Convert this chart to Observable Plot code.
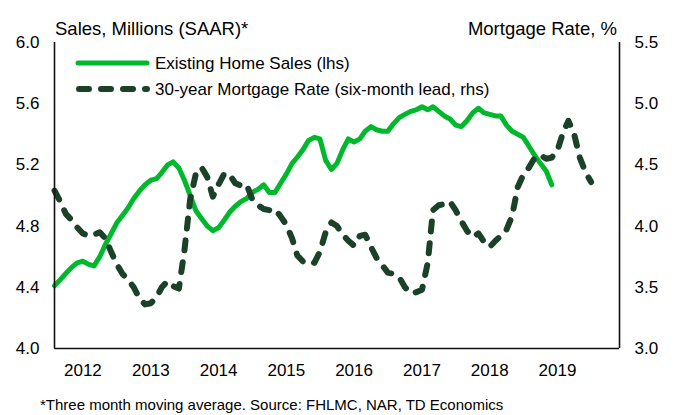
<!DOCTYPE html>
<html><head><meta charset="utf-8">
<script src="https://cdn.jsdelivr.net/npm/d3@7"></script>
<script src="https://cdn.jsdelivr.net/npm/@observablehq/plot@0.6"></script>
<style>
body{margin:0;background:#fff;}
#chart{width:676px;height:415px;font-family:"Liberation Sans",Arial,sans-serif;}
</style></head><body><div id="chart"></div>
<script>
// Monthly series, starting August 2011
const startMonth = "2011-08-01";
const domainEnd = "2019-12-01";

// Existing Home Sales, millions SAAR (3mma), left axis
const sales = [
 4.41,4.45,4.49,4.53,4.56,4.57,4.55,4.54,4.60,4.68,
 4.75,4.82,4.87,4.92,4.98,5.03,5.07,5.10,5.11,5.15,
 5.20,5.22,5.18,5.10,5.00,4.90,4.85,4.80,4.77,4.79,
 4.84,4.89,4.93,4.96,4.98,5.02,5.04,5.07,5.02,5.02,
 5.08,5.14,5.21,5.25,5.30,5.36,5.38,5.37,5.23,5.17,
 5.21,5.30,5.37,5.35,5.37,5.42,5.45,5.43,5.42,5.42,
 5.47,5.51,5.53,5.55,5.56,5.58,5.56,5.58,5.55,5.52,
 5.50,5.46,5.45,5.49,5.54,5.57,5.54,5.53,5.52,5.52,
 5.46,5.42,5.40,5.38,5.32,5.26,5.21,5.16,5.07
];

// 30-year mortgage rate, % (six-month lead), right axis
const mortgage = [
 4.29,4.20,4.10,4.05,3.99,3.94,3.92,3.93,3.95,3.90,
 3.79,3.69,3.61,3.56,3.50,3.41,3.36,3.37,3.42,3.50,
 3.55,3.51,3.49,3.80,4.22,4.43,4.48,4.40,4.24,4.34,
 4.43,4.42,4.35,4.33,4.34,4.22,4.17,4.14,4.13,4.14,
 4.08,4.01,3.90,3.76,3.71,3.72,3.70,3.79,3.95,4.03,
 4.00,3.93,3.88,3.84,3.92,3.93,3.83,3.74,3.68,3.62,
 3.61,3.58,3.50,3.45,3.46,3.48,3.70,4.13,4.17,4.18,
 4.20,4.13,4.04,3.96,3.91,3.94,3.87,3.83,3.88,3.92,
 3.97,4.08,4.32,4.42,4.48,4.56,4.58,4.55,4.56,4.62,
 4.77,4.86,4.75,4.56,4.44,4.36
];

const years = [2012,2013,2014,2015,2016,2017,2018,2019];
const leftTicks = [4.0,4.4,4.8,5.2,5.6,6.0];
const rightTicks = [3.0,3.5,4.0,4.5,5.0,5.5];

const leftTitle = "Sales, Millions (SAAR)*";
const rightTitle = "Mortgage Rate, %";
const seriesNames = ["Existing Home Sales (lhs)", "30-year Mortgage Rate (six-month lead, rhs)"];
const caption = "*Three month moving average. Source: FHLMC, NAR, TD Economics";

const green = "#00b82b";
const dark = "#1b4128";
const font = '"Liberation Sans", Arial, sans-serif';

// map right-axis values onto the left scale (3.0–5.5 -> 4.0–6.0)
const rMin = 3.0, rMax = 5.5, lMin = 4.0, lMax = 6.0;
const toLeft = r => lMin + (r - rMin) * (lMax - lMin) / (rMax - rMin);
const toRight = l => rMin + (l - lMin) * (rMax - rMin) / (lMax - lMin);

const start = new Date(startMonth);
const months = d3.utcMonth.range(start, d3.utcMonth.offset(start, mortgage.length));
const salesData = sales.map((v, i) => ({date: months[i], value: v}));
const rateData = mortgage.map((v, i) => ({date: months[i], value: toLeft(v)}));
const xDomain = [start, new Date(domainEnd)];

const chart = Plot.plot({
  width: 676, height: 415,
  marginLeft: 54, marginRight: 57, marginTop: 42, marginBottom: 67,
  style: {fontFamily: font, fontSize: "17px", color: "#000", background: "#fff", overflow: "visible"},
  x: {type: "utc", domain: xDomain},
  y: {domain: [lMin, lMax]},
  marks: [
    Plot.axisX(years.map(y => new Date(Date.UTC(y, 0, 1))), {tickSize: 0, tickPadding: 15, tickFormat: d => String(d.getUTCFullYear()), label: null, fontSize: 17}),
    Plot.axisY(leftTicks, {anchor: "left", tickSize: 0, tickPadding: 15, tickFormat: d => d.toFixed(1), label: null, fontSize: 17}),
    Plot.axisY(rightTicks.map(toLeft), {anchor: "right", tickSize: 0, tickPadding: 15, tickFormat: d => toRight(d).toFixed(1), label: null, fontSize: 17}),
    Plot.lineY(salesData, {x: "date", y: "value", stroke: green, strokeWidth: 5, strokeLinejoin: "round", strokeLinecap: "round"}),
    Plot.lineY(rateData, {x: "date", y: "value", stroke: dark, strokeWidth: 6, strokeDasharray: "10,12", strokeLinecap: "round", strokeLinejoin: "round"}),
    Plot.ruleX(xDomain, {stroke: "#111", strokeWidth: 1.6}),
    Plot.ruleY([lMin], {stroke: "#111", strokeWidth: 1.6})
  ]
});

document.getElementById("chart").appendChild(chart);
const svg = d3.select(chart);

const addText = (x, y, size, txt, anchor = "start") =>
  svg.append("text").attr("x", x).attr("y", y).attr("text-anchor", anchor)
    .attr("font-size", size).attr("font-family", font).attr("fill", "#000").text(txt);

addText(55, 35, 18.5, leftTitle);
addText(617, 35, 18.5, rightTitle, "end");

// legend
const lg = svg.append("g");
lg.append("line").attr("x1", 78).attr("x2", 147).attr("y1", 63).attr("y2", 63).attr("stroke", green).attr("stroke-width", 5).attr("stroke-linecap", "round");
lg.append("line").attr("x1", 79).attr("x2", 147).attr("y1", 89).attr("y2", 89).attr("stroke", dark).attr("stroke-width", 6).attr("stroke-dasharray", "10,12").attr("stroke-linecap", "round");
addText(155, 69, 17, seriesNames[0]);
addText(155, 95, 17, seriesNames[1]);

addText(40, 410, 15, caption);
</script></body></html>
